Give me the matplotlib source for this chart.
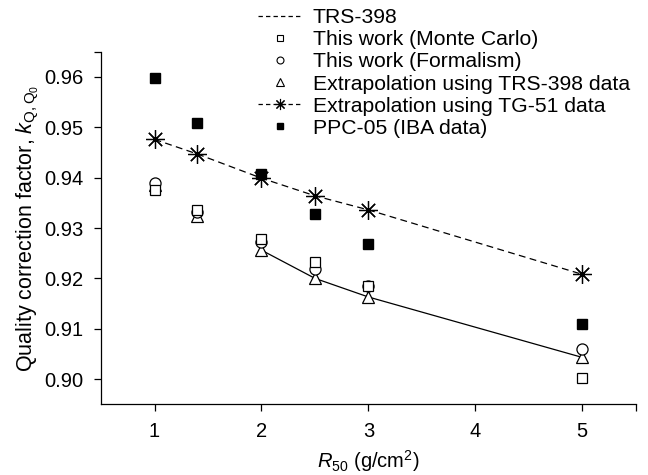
"""Quality correction factor k_Q,Q0 versus R50 for the PPC-05 chamber."""

import matplotlib

matplotlib.use("Agg")

import matplotlib.pyplot as plt
from matplotlib.lines import Line2D

plt.rcParams["font.family"] = ["Liberation Sans", "DejaVu Sans"]
plt.rcParams["mathtext.fontset"] = "custom"
plt.rcParams["mathtext.rm"] = "Liberation Sans"
plt.rcParams["mathtext.it"] = "Liberation Sans:italic"
plt.rcParams["font.size"] = 14.5

# R50 values (g/cm^2)
r50 = [1.0, 1.4, 2.0, 2.5, 3.0, 5.0]

monte_carlo = [0.9375, 0.9336, 0.9278, 0.9232, 0.9185, 0.9002]
formalism = [0.9389, 0.9332, 0.9272, 0.9218, 0.9184, 0.9059]
extrap_trs398 = [0.9385, 0.9324, 0.9256, 0.9200, 0.9163, 0.9043]
extrap_tg51 = [0.9476, 0.9447, 0.9399, 0.9364, 0.9336, 0.9208]
ppc05_iba = [0.9598, 0.9508, 0.9407, 0.9327, 0.9268, 0.9109]

# TRS-398 tabulated curve only covers R50 >= 2
trs398_r50 = [2.0, 2.5, 3.0, 5.0]
trs398_k = [0.9256, 0.9200, 0.9163, 0.9043]

DASH = (0, (5.5, 3.5))
LW = 0.9
OPEN = dict(mfc="white", mec="black", mew=0.9)

fig = plt.figure(figsize=(6.48, 4.75), dpi=100)
ax = fig.add_axes([0.156, 0.149, 0.825, 0.742])

ax.plot(trs398_r50, trs398_k, color="black", lw=LW)
ax.plot(r50, extrap_tg51, color="black", lw=LW, ls=DASH,
        marker=(8, 2, 0), ms=13.5, mew=0.9)
ax.plot(r50, ppc05_iba, ls="none", marker="s", ms=7, color="black")
ax.plot(r50, extrap_trs398, ls="none", marker="^", ms=9, **OPEN)
ax.plot(r50, formalism, ls="none", marker="o", ms=8, **OPEN)
ax.plot(r50, monte_carlo, ls="none", marker="s", ms=7, **OPEN)

ax.set_xlim(0.5, 5.5)
ax.set_ylim(0.895, 0.965)
ax.set_xticks([1, 2, 3, 4, 5, 5.5], ["1", "2", "3", "4", "5", ""])
ax.set_yticks([0.90, 0.91, 0.92, 0.93, 0.94, 0.95, 0.96, 0.965],
              ["0.90", "0.91", "0.92", "0.93", "0.94", "0.95", "0.96", ""])
ax.tick_params(direction="out", length=5, width=LW, pad=8)
for side in ("top", "right"):
    ax.spines[side].set_visible(False)
for side in ("left", "bottom"):
    ax.spines[side].set_linewidth(LW)

ax.set_xlabel(r"$\mathit{R}_{50}$ (g/cm$^{2}$)", labelpad=5)
ax.set_ylabel(r"Quality correction factor, $\mathit{k}_{\mathrm{Q,Q_0}}$",
              fontsize=15.5, labelpad=2)

# legend markers are drawn smaller than the data markers
LEG_OPEN = dict(mfc="white", mec="black", mew=0.8)
handles = [
    Line2D([], [], color="black", lw=LW, ls=(0, (3.5, 2.5))),
    Line2D([], [], ls="none", marker="s", ms=4.5, **LEG_OPEN),
    Line2D([], [], ls="none", marker="o", ms=5, **LEG_OPEN),
    Line2D([], [], ls="none", marker="^", ms=5.5, **LEG_OPEN),
    Line2D([], [], color="black", lw=LW, ls=(0, (3.5, 2.5)),
           marker=(8, 2, 0), ms=8, mew=0.8),
    Line2D([], [], ls="none", marker="s", ms=5, color="black"),
]
labels = [
    "TRS-398",
    "This work (Monte Carlo)",
    "This work (Formalism)",
    "Extrapolation using TRS-398 data",
    "Extrapolation using TG-51 data",
    "PPC-05 (IBA data)",
]
fig.legend(handles, labels, loc="upper left",
           bbox_to_anchor=(258 / 648, 1 - 8 / 475),
           frameon=False, borderaxespad=0, borderpad=0, labelspacing=0.15,
           handlelength=2.05, handletextpad=0.55, fontsize=15.2)

fig.savefig("out.png", dpi=100)
